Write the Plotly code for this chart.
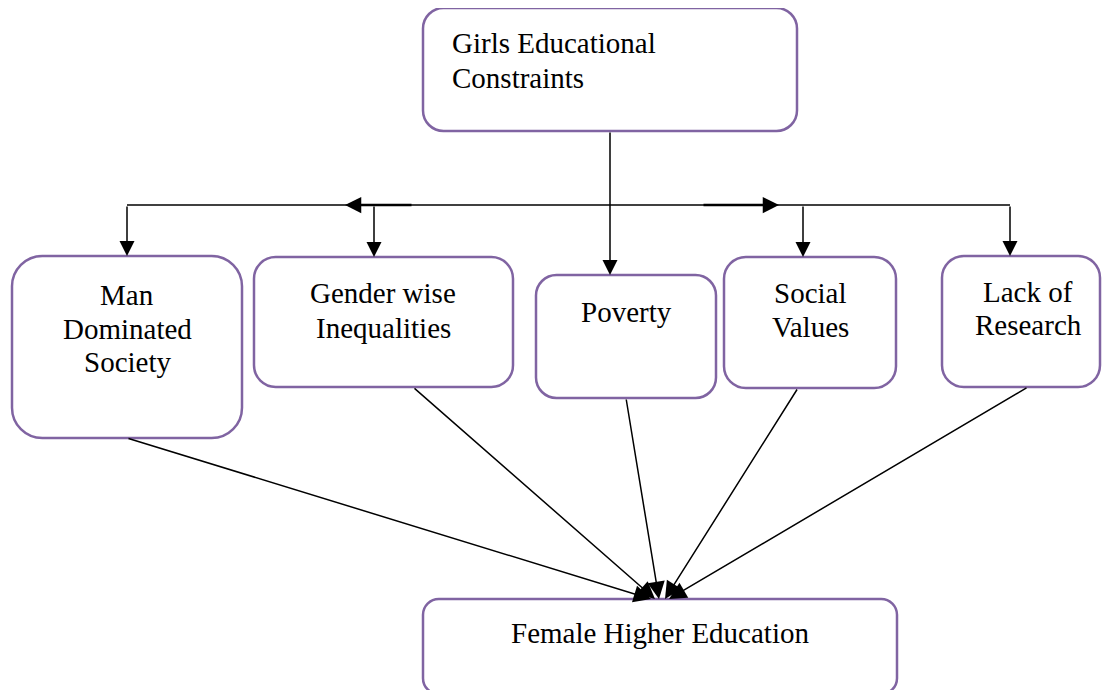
import plotly.graph_objects as go

# ---- diagram content ----
top_label = ["Girls Educational", "Constraints"]
mid_labels = [["Man", "Dominated", "Society"],
              ["Gender wise", "Inequalities"],
              ["Poverty"],
              ["Social", "Values"],
              ["Lack of", "Research"]]
bottom_label = ["Female Higher Education"]

# box geometry (pixel space of the 1110x690 canvas): left, right, top, bottom
top_box = [423, 797, 8, 131]
mid_left = [12, 254, 536, 724, 942]
mid_right = [242, 513, 716, 896, 1100]
mid_top = [256, 257, 275, 257, 256]
mid_bottom = [438, 387, 398, 388, 387]
bottom_box = [423, 897, 599, 694]

# text line centres
top_text_x = 450
top_text_y = [43, 78]
mid_text_x = [127, 383, 626, 810, 1028]
mid_text_y = [[295, 329, 362], [293, 328], [312], [293, 327], [292, 325]]
bottom_text_y = [633]

# connectors
bus_y = 205
drop_x = [127, 374, 803, 1010]
drop_top = [256, 257, 257, 256]
stem_x = 610
conv_start_x = [127, 413, 626, 798, 1028]
conv_end_x = [651, 655, 659, 665, 669]

PURPLE = "#8064A2"
FONT = dict(family="Liberation Serif, Times New Roman, serif", size=29, color="#000000")

# the page body has an 8px margin; offset the visible window so canvas pixels line up
OFF = 8
W, H = 1110, 690


def rounded_path(x0, x1, y0, y1):
    r = 0.1667 * min(x1 - x0, y1 - y0)
    k = 0.5523 * r
    return (f"M{x0 + r},{y0} L{x1 - r},{y0} "
            f"C{x1 - r + k},{y0} {x1},{y0 + r - k} {x1},{y0 + r} "
            f"L{x1},{y1 - r} "
            f"C{x1},{y1 - r + k} {x1 - r + k},{y1} {x1 - r},{y1} "
            f"L{x0 + r},{y1} "
            f"C{x0 + r - k},{y1} {x0},{y1 - r + k} {x0},{y1 - r} "
            f"L{x0},{y0 + r} "
            f"C{x0},{y0 + r - k} {x0 + r - k},{y0} {x0 + r},{y0} Z")


fig = go.Figure()
fig.add_trace(go.Scatter(x=[OFF, W], y=[OFF, H], mode="markers",
                         marker=dict(opacity=0), hoverinfo="skip", showlegend=False))

shapes = []
annotations = []

def box(x0, x1, y0, y1):
    shapes.append(dict(type="path", path=rounded_path(x0, x1, y0, y1), xref="x", yref="y",
                       line=dict(color=PURPLE, width=2.5), fillcolor="white", layer="above"))

def line(x0, y0, x1, y1, w=1.5):
    shapes.append(dict(type="line", x0=x0, y0=y0, x1=x1, y1=y1, xref="x", yref="y",
                       line=dict(color="black", width=w), layer="below"))

def arrow(xt, yt, xh, yh, w=1.5, size=2.0):
    annotations.append(dict(x=xh, y=yh, ax=xt, ay=yt, xref="x", yref="y", axref="x", ayref="y",
                            showarrow=True, arrowhead=2, arrowsize=size, arrowwidth=w,
                            arrowcolor="black", standoff=0, startstandoff=0, text=""))

def text(x, y, s, anchor="center"):
    annotations.append(dict(x=x, y=y, xref="x", yref="y", text=s, showarrow=False,
                            xanchor=anchor, yanchor="middle", font=FONT))

# boxes
box(*top_box)
for i in range(5):
    box(mid_left[i], mid_right[i], mid_top[i], mid_bottom[i])
box(*bottom_box)

# bus line and thick arrow segments
line(drop_x[0], bus_y, drop_x[-1], bus_y)
arrow(413, bus_y, 345, bus_y, w=2.5, size=1.3)
arrow(702, bus_y, 779, bus_y, w=2.5, size=1.3)

# drops
for x, yb in zip(drop_x, drop_top):
    arrow(x, bus_y, x, yb, w=1.5, size=2.0)
arrow(stem_x, top_box[3], stem_x, mid_top[2], w=1.5, size=2.0)

# converging lines
for i in range(5):
    arrow(conv_start_x[i], mid_bottom[i], conv_end_x[i], bottom_box[2], w=1.5, size=2.3)

# texts
for s, y in zip(top_label, top_text_y):
    text(top_text_x, y, s, anchor="left")
for labels, x, ys in zip(mid_labels, mid_text_x, mid_text_y):
    for s, y in zip(labels, ys):
        text(x, y, s)
for s, y in zip(bottom_label, bottom_text_y):
    text(660, y, s)

fig.update_layout(
    width=W - OFF, height=H - OFF, margin=dict(l=0, r=0, t=0, b=0),
    paper_bgcolor="white", plot_bgcolor="white",
    xaxis=dict(range=[OFF, W], visible=False, fixedrange=True),
    yaxis=dict(range=[H, OFF], visible=False, fixedrange=True),
    shapes=shapes, annotations=annotations, showlegend=False,
)

fig.write_html("out.html")
